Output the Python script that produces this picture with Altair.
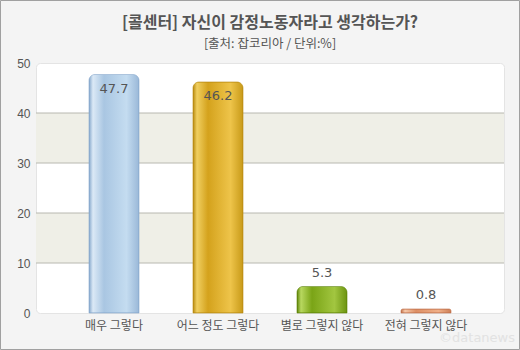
import altair as alt
import pandas as pd

title_text = "[콜센터] 자신이 감정노동자라고 생각하는가?"
subtitle_text = "[출처: 잡코리아 / 단위:%]"
categories = ["매우 그렇다", "어느 정도 그렇다", "별로 그렇지 않다", "전혀 그렇지 않다"]
values = [47.7, 46.2, 5.3, 0.8]
band_from = [10, 30]
band_to = [20, 40]
grid_values = [10, 20, 30, 40]
y_ticks = [0, 10, 20, 30, 40, 50]

bar_styles = [
    ["#86a8cc", "#dbe9f6", "#a9c6e2", "#c4dcf0", "#9ab8d8"],
    ["#b88a10", "#f0cf60", "#d4a21c", "#eec44a", "#c89a18"],
    ["#5e8408", "#b8d860", "#7aa416", "#a2c640", "#6c9410"],
    ["#c0704a", "#f6c8a8", "#dc8e64", "#f0b088", "#cc7e56"],
]

df = pd.DataFrame({"cat": categories, "v": values})
bands = pd.DataFrame({"a": band_from, "b": band_to})
grid = pd.DataFrame({"g": grid_values})
titles = pd.DataFrame({"t": [title_text]})
subtitles = pd.DataFrame({"t": [subtitle_text]})

W, H = 468, 250
FONT = "Noto Sans CJK KR"

yscale = alt.Scale(domain=[0, 50], nice=False)
xscale = alt.Scale(domain=categories, paddingInner=0, paddingOuter=0.25)
yaxis = alt.Axis(title=None, values=y_ticks, grid=False, ticks=False,
                 domain=False, labelPadding=6, labelFontSize=12,
                 labelColor="#555", labelFont="Liberation Sans")
xaxis = alt.Axis(title=None, labelAngle=0, ticks=False, domain=False,
                 labelPadding=7, labelFontSize=12, labelColor="#555",
                 labelFont=FONT)

band_layer = alt.Chart(bands).mark_rect(color="#efefe7").encode(
    x=alt.value(0), x2=alt.value(W),
    y=alt.Y("a:Q", scale=yscale, axis=yaxis), y2="b:Q")

grid_layer = alt.Chart(grid).mark_rule(color="#b8b8b0", strokeWidth=1).encode(
    y=alt.Y("g:Q", scale=yscale, axis=yaxis))

bar_layers = []
for cat, st in zip(categories, bar_styles):
    grad = alt.Gradient(
        gradient="linear", x1=0, x2=1, y1=0, y2=0,
        stops=[alt.GradientStop(color=st[0], offset=0),
               alt.GradientStop(color=st[1], offset=0.08),
               alt.GradientStop(color=st[2], offset=0.3),
               alt.GradientStop(color=st[3], offset=0.75),
               alt.GradientStop(color=st[4], offset=1)])
    bar_layers.append(
        alt.Chart(df).transform_filter(alt.datum.cat == cat).mark_bar(
            size=50, fill=grad, stroke=st[0], strokeWidth=0.6,
            cornerRadiusTopLeft=6, cornerRadiusTopRight=6).encode(
            x=alt.X("cat:N", scale=xscale, sort=categories, axis=xaxis),
            y=alt.Y("v:Q", scale=yscale, axis=yaxis)))

label_in = alt.Chart(df).transform_filter(alt.datum.v >= 10).mark_text(
    baseline="middle", dy=14, fontSize=13, color="#555", font="DejaVu Sans").encode(
    x=alt.X("cat:N", scale=xscale, sort=categories, axis=xaxis),
    y=alt.Y("v:Q", scale=yscale, axis=yaxis), text=alt.Text("v:Q", format=".1f"))

label_out = alt.Chart(df).transform_filter(alt.datum.v < 10).mark_text(
    baseline="middle", dy=-14, fontSize=13, color="#555", font="DejaVu Sans").encode(
    x=alt.X("cat:N", scale=xscale, sort=categories, axis=xaxis),
    y=alt.Y("v:Q", scale=yscale, axis=yaxis), text=alt.Text("v:Q", format=".1f"))

title_layer = alt.Chart(titles).mark_text(
    fontSize=16, fontWeight="bold", color="#555", font=FONT, align="center",
    baseline="middle").encode(x=alt.value(W / 2), y=alt.value(-40), text="t:N")

subtitle_layer = alt.Chart(subtitles).mark_text(
    fontSize=12.5, color="#555", font=FONT, align="center",
    baseline="middle").encode(x=alt.value(W / 2), y=alt.value(-19), text="t:N")

frame = alt.Chart(titles).mark_rect(fill=None, stroke="#a0a0a0", strokeWidth=1).encode(
    x=alt.value(-35.5), x2=alt.value(W + 15.5), y=alt.value(-62.5), y2=alt.value(H + 36.5))

watermark = alt.Chart(titles).mark_text(
    text="©datanews", fontSize=13, color="#e2e2e2", align="right", font="DejaVu Sans",
    baseline="middle").encode(x=alt.value(W + 11), y=alt.value(H + 25))

chart = alt.layer(
    band_layer, grid_layer, *bar_layers, label_in, label_out,
    title_layer, subtitle_layer, watermark, frame
).properties(
    width=W, height=H,
    autosize=alt.AutoSizeParams(type="none"),
    padding={"left": 36, "top": 63, "right": 16, "bottom": 37},
    background="#f4f4f4",
).configure_view(fill="white", stroke="#e4e4e4", cornerRadius=4)

chart.save("out.html", embed_options={"renderer": "svg", "actions": False})
